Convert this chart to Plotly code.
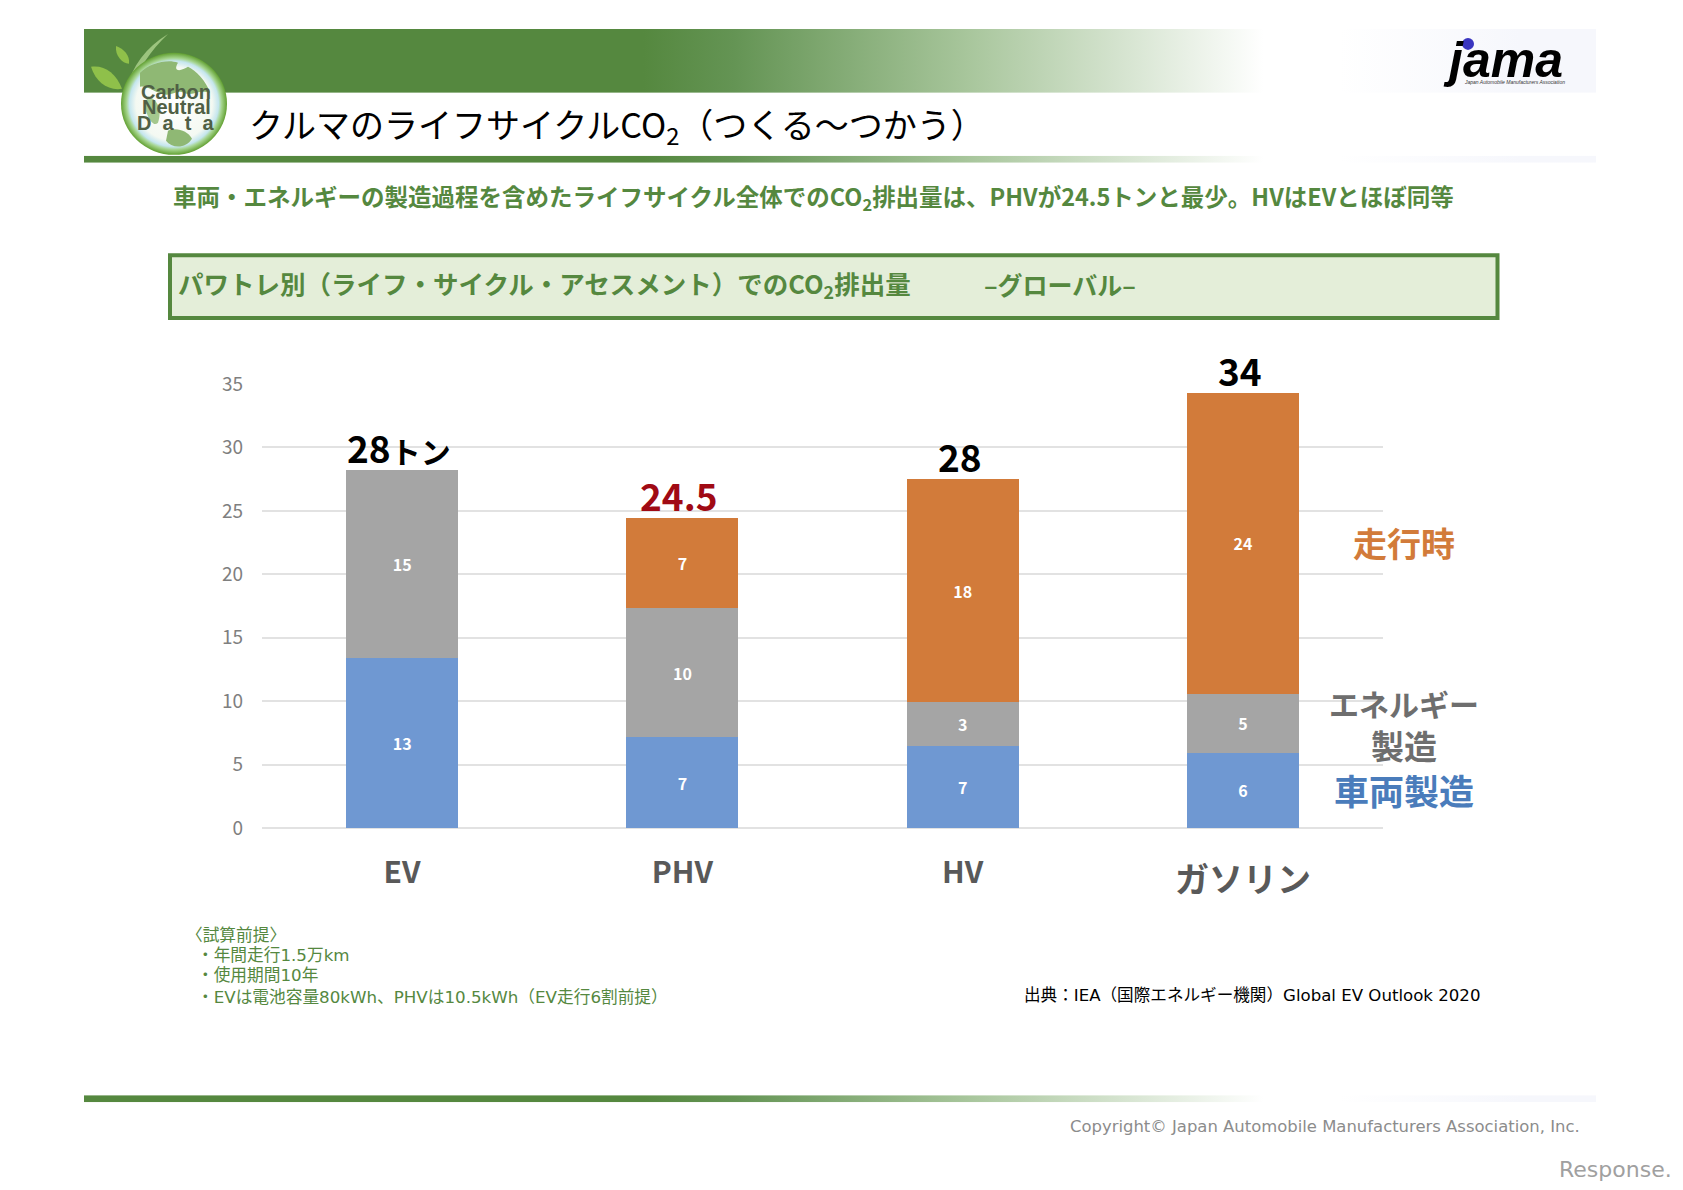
import base64

import plotly.graph_objects as go

categories = ["EV", "PHV", "HV", "ガソリン"]
axis_labels = ["EV", "PHV", "HV"]

vehicle = [13.4, 7.15, 6.5, 5.95]
energy = [14.8, 10.2, 3.4, 4.65]
running = [None, 7.1, 17.6, 23.7]

vehicle_text = ["13", "7", "7", "6"]
energy_text = ["15", "10", "3", "5"]
running_text = [None, "7", "18", "24"]

total_text = ["28<span style='font-size:30px'>トン</span>", "24.5", "28", "34"]
total_color = ["#000000", "#a00a14", "#000000", "#000000"]
y_ticks = [0, 5, 10, 15, 20, 25, 30, 35]

GREEN = "#55883f"
JP = "Noto Sans CJK JP"
LATIN = "DejaVu Sans, Noto Sans CJK JP"

# plot area in page pixels
LEFT, RIGHT, TOP, BOTTOM = 262, 1383, 383.5, 828


def px(x):
    return (x - LEFT) / (RIGHT - LEFT)


def py(y):
    return (BOTTOM - y) / (BOTTOM - TOP)


def svg_uri(svg):
    return "data:image/svg+xml;base64," + base64.b64encode(svg.encode()).decode()


band_svg = """<svg xmlns="http://www.w3.org/2000/svg" width="1512" height="20" preserveAspectRatio="none">
<defs><linearGradient id="g" x1="0" x2="1" y1="0" y2="0">
<stop offset="0" stop-color="#55883f"/><stop offset="0.37" stop-color="#55883f"/>
<stop offset="0.43" stop-color="#649454"/><stop offset="0.585" stop-color="#a8c69c"/>
<stop offset="0.78" stop-color="#ffffff"/><stop offset="0.83" stop-color="#ffffff"/>
<stop offset="0.95" stop-color="#f6f7fc"/><stop offset="1" stop-color="#f6f7fc"/>
</linearGradient></defs><rect width="1512" height="20" fill="url(#g)"/></svg>"""

logo_svg = """<svg xmlns="http://www.w3.org/2000/svg" width="160" height="140" viewBox="84 24 160 140">
<defs><radialGradient id="r" cx="0.5" cy="0.5" r="0.5">
<stop offset="0" stop-color="#ffffff"/><stop offset="0.72" stop-color="#f4f9f2"/>
<stop offset="0.84" stop-color="#c5e6ee"/><stop offset="0.9" stop-color="#a4d48c"/>
<stop offset="1" stop-color="#62a032"/></radialGradient></defs>
<path d="M126 88 C132 66 146 46 168 33 C150 50 138 68 133 90 Z" fill="#9cc47e"/>
<path d="M91 66 C104 64 116 72 122 88 C108 90 96 82 91 66 Z" fill="#8fc04a"/>
<path d="M116 45 C124 48 130 54 129 63 C122 62 115 55 116 45 Z" fill="#8fc04a"/>
<ellipse cx="174" cy="103" rx="53" ry="51" fill="url(#r)"/>
<path d="M140 72 C150 62 168 58 178 62 C172 72 182 70 188 66 C196 70 206 80 210 92 C198 88 192 96 184 92
C176 88 170 98 160 92 C152 90 146 84 140 86 Z" fill="#8fb874"/>
<path d="M148 96 C158 98 162 110 158 122 C152 128 146 112 144 104 Z" fill="#a4c88e"/>
<path d="M168 130 C176 126 188 130 192 138 C186 148 172 148 166 140 Z" fill="#8fb874"/>
</svg>"""

fig = go.Figure()

fig.add_trace(go.Bar(x=categories, y=vehicle, name="車両製造", marker_color="#6f98d2",
                     text=vehicle_text))
fig.add_trace(go.Bar(x=categories, y=energy, name="エネルギー製造", marker_color="#a5a5a5",
                     text=energy_text))
fig.add_trace(go.Bar(x=categories, y=running, name="走行時", marker_color="#d27b3a",
                     text=running_text))
fig.update_traces(textposition="inside", insidetextanchor="middle", textangle=0,
                  marker_line_width=0,
                  textfont=dict(family=JP, size=16, color="#ffffff", weight=700))

fig.update_layout(
    width=1683,
    height=1190,
    barmode="stack",
    bargap=0.6,
    showlegend=False,
    paper_bgcolor="#ffffff",
    plot_bgcolor="#ffffff",
    margin=dict(l=LEFT, r=1683 - RIGHT, t=TOP, b=1190 - BOTTOM, pad=0),
    xaxis=dict(
        type="category",
        categoryorder="array",
        categoryarray=categories,
        tickmode="array",
        tickvals=axis_labels,
        ticktext=axis_labels,
        tickfont=dict(family=JP, size=30, color="#595959", weight=700),
        ticks="outside",
        ticklen=18,
        tickcolor="#ffffff",
        showline=False,
        showgrid=False,
        zeroline=False,
    ),
    yaxis=dict(
        range=[0, 35],
        tickmode="array",
        tickvals=y_ticks,
        tickfont=dict(family=JP, size=19, color="#7f7f7f"),
        ticklabelstandoff=18,
        ticks="",
        gridcolor="#e2e2e2",
        gridwidth=2,
        zeroline=True,
        zerolinecolor="#e2e2e2",
        zerolinewidth=2,
        showline=False,
    ),
)

# header and footer bands, logo artwork
for y0, y1 in [(28, 92), (155, 162), (1095.5, 1102.5)]:
    fig.add_layout_image(source=svg_uri(band_svg), xref="paper", yref="paper",
                         x=px(84), y=py(y0), sizex=px(1596) - px(84), sizey=py(y0) - py(y1),
                         xanchor="left", yanchor="top", sizing="stretch", layer="below")
fig.add_layout_image(source=svg_uri(logo_svg), xref="paper", yref="paper",
                     x=px(84), y=py(24), sizex=px(244) - px(84), sizey=py(24) - py(164),
                     xanchor="left", yanchor="top", sizing="stretch", layer="below")

# subtitle box
fig.add_shape(type="rect", xref="paper", yref="paper", layer="below",
              x0=px(170), x1=px(1497.5), y0=py(254.5), y1=py(317.5),
              fillcolor="#e4eed9", line=dict(color=GREEN, width=4))

# jama mark dot
fig.add_shape(type="circle", xref="paper", yref="paper",
              x0=px(1462), x1=px(1474), y0=py(37), y1=py(49),
              fillcolor="#3a35c0", line_width=0)


def note(text, x, y, size, color, anchor="left", family=JP, weight=400):
    fig.add_annotation(xref="paper", yref="paper", x=px(x), y=py(y), text=text, showarrow=False,
                       xanchor=anchor, yanchor="middle",
                       font=dict(family=family, size=size, color=color, weight=weight))


note("クルマのライフサイクルCO<sub>2</sub>（つくる～つかう）", 247, 125, 34, "#000000")
note("車両・エネルギーの製造過程を含めたライフサイクル全体でのCO<sub>2</sub>排出量は、PHVが24.5トンと最少。HVはEVとほぼ同等",
     171, 197, 23.5, GREEN, weight=700)
note("パワトレ別（ライフ・サイクル・アセスメント）でのCO<sub>2</sub>排出量", 176, 283, 25.5, GREEN, weight=700)
note("–グローバル–", 982, 283, 25, GREEN, weight=700)

logo_font = "Liberation Sans"
logo_gray = "#4f5f45"
note("Carbon", 176, 91, 20, logo_gray, anchor="center", family=logo_font, weight=700)
note("Neutral", 176, 106, 20, logo_gray, anchor="center", family=logo_font, weight=700)
note("D  a  t  a", 176, 122, 20, logo_gray, anchor="center", family=logo_font, weight=700)

note("<b><i>jama</i></b>", 1503, 59, 50, "#000000", anchor="center", family="Liberation Sans")
note("<i>Japan Automobile Manufacturers Association</i>", 1514, 81, 5, "#333333", anchor="center",
     family="Liberation Sans")

note("走行時", 1404, 542, 34, "#d27b3a", anchor="center", weight=700)
note("エネルギー", 1404, 703, 30, "#6e6e6e", anchor="center", weight=700)
note("製造", 1404, 745, 33, "#6e6e6e", anchor="center", weight=700)
note("車両製造", 1404, 789, 35, "#4a7cbb", anchor="center", weight=700)

note("ガソリン", 1243, 878, 34, "#595959", anchor="center", weight=700)

note("〈試算前提〉", 184, 934, 16.7, GREEN)
note("・年間走行1.5万km", 195, 955, 16.7, GREEN, family=LATIN)
note("・使用期間10年", 195, 975, 16.7, GREEN, family=LATIN)
note("・EVは電池容量80kWh、PHVは10.5kWh（EV走行6割前提）", 195, 997, 16.7, GREEN, family=LATIN)

note("出典：IEA（国際エネルギー機関）Global EV Outlook 2020", 1022, 996, 16.6, "#000000", family=LATIN)
note("Copyright© Japan Automobile Manufacturers Association, Inc.", 1068, 1127, 16.45, "#8c8c8c", family=LATIN)
note("Response.", 1615, 1170, 22, "#a0a0a0", anchor="center", family="DejaVu Sans")

# totals above each stack
for i, cat in enumerate(categories):
    top = vehicle[i] + energy[i] + (running[i] or 0)
    fig.add_annotation(x=cat, y=top, xref="x", yref="y", text=total_text[i], showarrow=False,
                       yanchor="bottom", yshift=-6, xshift=-3,
                       font=dict(family=JP, size=37, color=total_color[i], weight=700))

fig.write_html("out.html", config=dict(displayModeBar=False),
               post_script="document.body.style.margin='0';")
